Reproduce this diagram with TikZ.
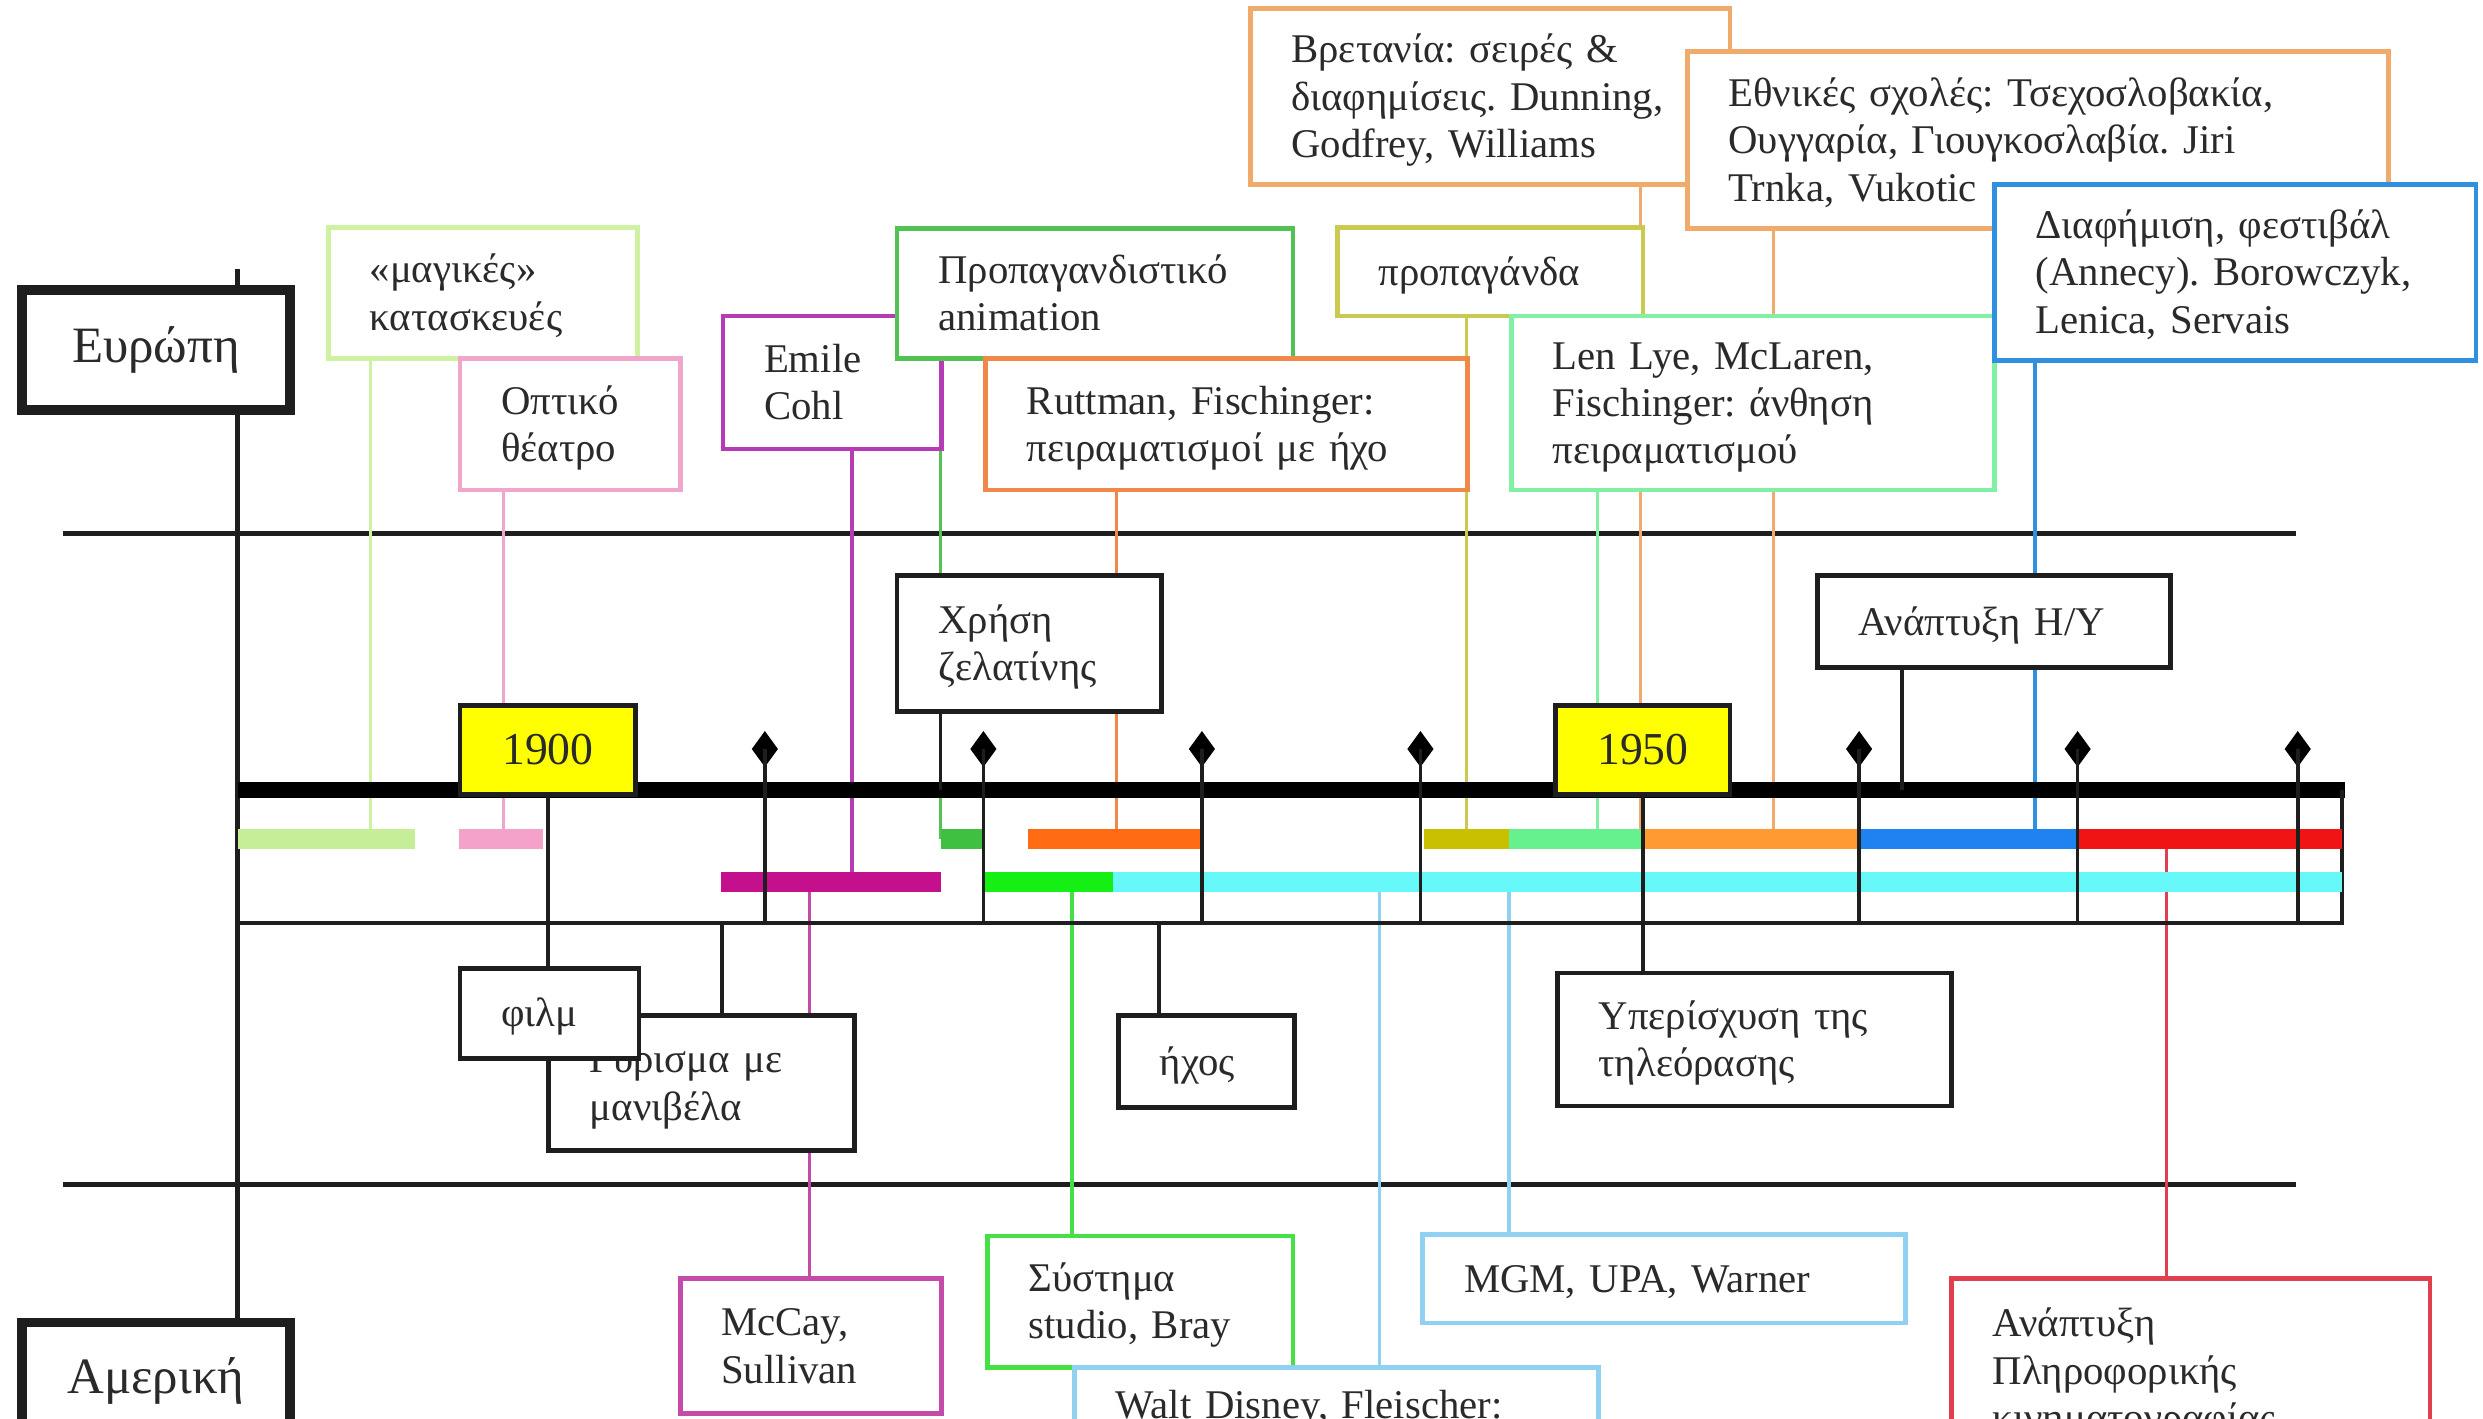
\documentclass[tikz,border=0pt]{standalone}
\usepackage{fontspec}
\setmainfont{Liberation Serif}
\usetikzlibrary{shapes.geometric}
\pgfdeclarelayer{bg}
\pgfdeclarelayer{lines}
\pgfdeclarelayer{axis}
\pgfdeclarelayer{ticks}
\pgfsetlayers{bg,lines,axis,ticks,main}
\frenchspacing
\newcommand\tfont{\fontsize{11.6}{13.5}\selectfont}
\newcommand\rfont{\fontsize{14.5}{17}\selectfont}
\newcommand\yfont{\fontsize{13}{15}\selectfont}
\newcommand\ml[1]{\mbox{\rule[-2.9pt]{0pt}{13.5pt}#1}}
\newcommand\uu{0.015835cm}
\definecolor{txt}{HTML}{2A2A2A}
\definecolor{lineK}{HTML}{1E1E1E}
\definecolor{cMagic}{HTML}{D0F0A2}
\definecolor{rMagic}{HTML}{C6EE98}
\definecolor{cPink}{HTML}{F0A6CA}
\definecolor{rPink}{HTML}{F4A2CA}
\definecolor{cPurple}{HTML}{B63CB6}
\definecolor{rPurple}{HTML}{C4108C}
\definecolor{cMcCay}{HTML}{C44CA8}
\definecolor{cGreen}{HTML}{52C252}
\definecolor{rGreen}{HTML}{40C040}
\definecolor{cOrange}{HTML}{F0884A}
\definecolor{rOrange}{HTML}{FF6A12}
\definecolor{cOlive}{HTML}{CACA52}
\definecolor{rOlive}{HTML}{C8C000}
\definecolor{cTan}{HTML}{F0AA6C}
\definecolor{rTan}{HTML}{FF9A32}
\definecolor{cLG}{HTML}{82F0A2}
\definecolor{rLG}{HTML}{66F08E}
\definecolor{cBlue}{HTML}{3090E0}
\definecolor{rBlue}{HTML}{1E82F0}
\definecolor{cRed}{HTML}{E0404E}
\definecolor{rRed}{HTML}{F01414}
\definecolor{cBright}{HTML}{44E044}
\definecolor{rBright}{HTML}{14F014}
\definecolor{cLB}{HTML}{90D0F0}
\definecolor{rCyan}{HTML}{66F8F8}
\definecolor{yfill}{HTML}{FFFF00}
\tikzset{
  sz/.code 2 args={%
    \pgfmathsetlengthmacro\bxw{(#1)*\uu}%
    \pgfmathsetlengthmacro\bxh{(#2)*\uu}%
    \edef\bxtmp{\noexpand\pgfkeysalso{minimum width=\bxw,minimum height=\bxh}}\bxtmp},
  tw/.code={%
    \pgfmathsetlengthmacro\bxt{(#1-52)*\uu}%
    \edef\bxtmp{\noexpand\pgfkeysalso{text width=\bxt}}\bxtmp},
  wh/.style 2 args={sz={#1}{#2}, tw={#1}},
  box/.style={fill=white, line width=1.35pt, inner xsep=11.71pt, inner ysep=0pt,
    align=left, anchor=north west, font=\tfont, text=txt},
  cbox/.style={fill=white, inner sep=0pt, align=center, anchor=north west, text=txt},
  conn/.style={draw=#1, line width=0.95pt},
  kconn/.style={draw=lineK, line width=1pt},
  kline/.style={draw=lineK, line width=1.3pt},
  bar/.style={draw=#1, line width=5.63pt},
  dia/.style={diamond, fill=black, draw=none, inner sep=0pt, minimum width=7.6pt, minimum height=10.4pt},
}
\begin{document}
\begin{tikzpicture}[x=\uu, y=-\uu]
\useasboundingbox (0,0) rectangle (1568,896);
\begin{pgfonlayer}{bg}
\fill[white] (0,0) rectangle (1568,896);
\end{pgfonlayer}
\clip (0,0) rectangle (1568,896);

% ---------- boxes ----------
\node[cbox, draw=lineK, line width=2.7pt, sz={169}{76}, font=\rfont] (europe) at (11,180) {Ευρώπη};
\node[box, draw=cMagic, wh={195}{83}] (magic) at (206,142) {\ml{«μαγικές»}\\\ml{κατασκευές}};
\node[box, draw=cPink, wh={139}{83}] (optiko) at (289,225) {\ml{Οπτικό}\\\ml{θέατρο}};
\node[box, draw=cPurple, wh={138}{84}] (emile) at (455,198) {\ml{Emile}\\\ml{Cohl}};
\node[box, draw=cGreen, wh={250}{82}] (propag) at (565,143) {\ml{Προπαγανδιστικό}\\\ml{animation}};
\node[box, draw=cOrange, wh={304}{83}] (ruttman) at (621,225) {\ml{Ruttman, Fischinger:}\\\ml{πειραματισμοί με ήχο}};
\node[box, draw=cTan, wh={303}{111}] (britain) at (788,4) {\ml{Βρετανία: σειρές \&}\\\ml{διαφημίσεις. Dunning,}\\\ml{Godfrey, Williams}};
\node[box, draw=cTan, wh={443}{112}] (national) at (1064,31) {\ml{Εθνικές σχολές: Τσεχοσλοβακία,}\\\ml{Ουγγαρία, Γιουγκοσλαβία. Jiri}\\\ml{Trnka, Vukotic}};
\node[box, draw=cOlive, wh={193}{56}] (propaganda) at (843,142) {\ml{προπαγάνδα}};
\node[box, draw=cLG, wh={305}{110}] (lenlye) at (953,198) {\ml{Len Lye, McLaren,}\\\ml{Fischinger: άνθηση}\\\ml{πειραματισμού}};
\node[box, draw=cBlue, wh={304}{111}] (ads) at (1258,115) {\ml{Διαφήμιση, φεστιβάλ}\\\ml{(Annecy). Borowczyk,}\\\ml{Lenica, Servais}};
\node[box, draw=lineK, wh={167}{86}] (gelatin) at (565,362) {\ml{Χρήση}\\\ml{ζελατίνης}};
\node[box, draw=lineK, wh={223}{58}] (computer) at (1146,362) {\ml{Ανάπτυξη Η/Υ}};
\node[cbox, draw=lineK, fill=yfill, line width=1.35pt, sz={111}{56}, font=\yfont] (y1900) at (289,444) {1900};
\node[cbox, draw=lineK, fill=yfill, line width=1.35pt, sz={110}{56}, font=\yfont] (y1950) at (981,444) {1950};
\node[box, draw=lineK, wh={193}{85}] (crank) at (345,640) {\ml{Γύρισμα με}\\\ml{μανιβέλα}};
\node[box, draw=lineK, wh={113}{57}] (film) at (289,610) {\ml{φιλμ}};
\node[box, draw=lineK, wh={111}{58}] (sound) at (705,640) {\ml{ήχος}};
\node[box, draw=lineK, wh={249}{84}] (tv) at (982,613) {\ml{Υπερίσχυση της}\\\ml{τηλεόρασης}};
\node[box, draw=cMcCay, wh={165}{85}] (mccay) at (428,806) {\ml{McCay,}\\\ml{Sullivan}};
\node[box, draw=cBright, wh={193}{83}] (bray) at (622,779) {\ml{Σύστημα}\\\ml{studio, Bray}};
\node[box, draw=cLB, wh={331}{48}] (disney) at (677,862) {\ml{Walt Disney, Fleischer:}};
\node[box, draw=cLB, wh={305}{56}] (mgm) at (897,778) {\ml{MGM, UPA, Warner}};
\node[box, draw=cRed, wh={302}{116}] (info) at (1231,806) {\ml{Ανάπτυξη}\\\ml{Πληροφορικής}\\\ml{κινηματογραφίας}};
\node[cbox, draw=lineK, line width=2.7pt, sz={169}{74}, font=\rfont] (america) at (11,832) {Αμερική};

% ---------- separators and coloured connectors ----------
\begin{pgfonlayer}{lines}
\draw[kline] (40,337) -- (1450,337);
\draw[kline] (40,748) -- (1450,748);
\coordinate (top) at (150,170);
\draw[kline] (top) -- (america.north -| top);
\coordinate (k-magic) at (234,530);
\coordinate (k-optiko) at (318,530);
\coordinate (k-emile) at (538,557);
\coordinate (k-propag) at (594,530);
\coordinate (k-ruttman) at (705,530);
\coordinate (k-propaganda) at (926,530);
\coordinate (k-lenlye) at (1009,530);
\coordinate (k-britain) at (1036,530);
\coordinate (k-national) at (1120,530);
\coordinate (k-ads) at (1285,530);
\coordinate (k-mccay) at (511,557);
\coordinate (k-bray) at (677,557);
\coordinate (k-disney) at (871,557);
\coordinate (k-mgm) at (953,557);
\coordinate (k-info) at (1368,530);
\draw[conn=cMagic] (magic.south -| k-magic) -- (k-magic);
\draw[conn=cPink] (optiko.south -| k-optiko) -- (k-optiko);
\draw[conn=cPurple] (emile.south -| k-emile) -- (k-emile);
\draw[conn=cGreen] (propag.south -| k-propag) -- (k-propag);
\draw[conn=cOrange] (ruttman.south -| k-ruttman) -- (k-ruttman);
\draw[conn=cOlive] (propaganda.south -| k-propaganda) -- (k-propaganda);
\draw[conn=cLG] (lenlye.south -| k-lenlye) -- (k-lenlye);
\draw[conn=cTan] (britain.south -| k-britain) -- (k-britain);
\draw[conn=cTan] (national.south -| k-national) -- (k-national);
\draw[conn=cBlue] (ads.south -| k-ads) -- (k-ads);
\draw[conn=cMcCay] (k-mccay) -- (mccay.north -| k-mccay);
\draw[conn=cBright] (k-bray) -- (bray.north -| k-bray);
\draw[conn=cLB] (k-disney) -- (disney.north -| k-disney);
\draw[conn=cLB] (k-mgm) -- (mgm.north -| k-mgm);
\draw[conn=cRed] (k-info) -- (info.north -| k-info);
\end{pgfonlayer}

% ---------- time axis and period bars ----------
\begin{pgfonlayer}{axis}
\draw[draw=black, line width=4.73pt] (150,499) -- (1481,499);
\draw[draw=lineK, line width=1.05pt] (150,583) -- (1479,583) -- (1479,499);
\draw[bar=rMagic] (150,530) -- (262,530);
\draw[bar=rPink] (290,530) -- (343,530);
\draw[bar=rGreen] (594,530) -- (621,530);
\draw[bar=rOrange] (649,530) -- (758,530);
\draw[bar=rOlive] (899,530) -- (953,530);
\draw[bar=rLG] (953,530) -- (1036,530);
\draw[bar=rTan] (1036,530) -- (1174,530);
\draw[bar=rBlue] (1175,530) -- (1313,530);
\draw[bar=rRed] (1313,530) -- (1479,530);
\draw[bar=rPurple] (455,557) -- (594,557);
\draw[bar=rBright] (622,557) -- (703,557);
\draw[bar=rCyan] (703,557) -- (1479,557);
\end{pgfonlayer}

% ---------- decade ticks and black connectors ----------
\begin{pgfonlayer}{ticks}
\coordinate (bl) at (150,583);
\node[dia] (d1910) at (483,473) {};
\node[dia] (d1920) at (621,473) {};
\node[dia] (d1930) at (759,473) {};
\node[dia] (d1940) at (897,473) {};
\node[dia] (d1960) at (1174,473) {};
\node[dia] (d1970) at (1312,473) {};
\node[dia] (d1980) at (1451,473) {};
\foreach \d in {d1910,d1920,d1930,d1940,d1960,d1970,d1980}
  \draw[kconn] (\d.center) -- (\d.center |- bl);
\coordinate (k-gel) at (594,499);
\coordinate (k-comp) at (1201,499);
\coordinate (k-crank) at (456,583);
\coordinate (k-sound) at (732,583);
\draw[kconn] (gelatin.south -| k-gel) -- (k-gel);
\draw[kconn] (computer.south -| k-comp) -- (k-comp);
\draw[kconn] (y1900.south) -- (y1900.south |- film.north);
\draw[kconn] (y1950.south) -- (y1950.south |- tv.north);
\draw[kconn] (k-crank) -- (crank.north -| k-crank);
\draw[kconn] (k-sound) -- (sound.north -| k-sound);
\end{pgfonlayer}
\end{tikzpicture}
\end{document}
